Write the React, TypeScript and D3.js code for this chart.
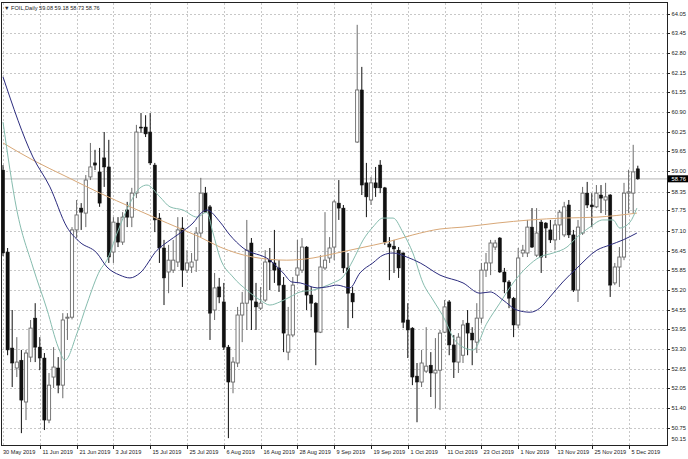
import React from "react";
import * as d3 from "d3";

const symbol = "FOIL,Daily";

const opens = [59.04,56.41,53.33,52.69,52.94,51.60,53.04,54.29,53.36,53.01,51.02,52.40,52.69,52.14,54.29,54.32,57.12,57.82,57.66,58.82,59.27,58.98,59.43,59.14,56.41,57.34,56.73,57.76,57.53,58.30,60.42,60.42,60.26,59.20,57.50,56.54,55.77,55.83,56.09,57.18,55.83,55.93,56.15,57.02,58.30,57.86,54.55,55.29,54.81,53.36,52.24,52.85,54.39,54.77,56.70,54.81,54.61,54.87,56.15,56.06,55.90,55.35,53.20,53.75,55.67,55.83,56.57,55.03,54.77,53.84,55.90,56.22,56.57,57.98,57.82,55.90,55.09,59.94,61.61,58.63,58.08,58.63,59.20,58.47,56.67,56.60,56.47,56.38,54.23,53.97,52.43,52.24,52.59,52.78,52.53,52.62,53.84,54.81,53.43,52.88,53.10,54.13,53.81,53.52,54.29,55.83,56.06,56.57,56.86,55.77,55.45,54.93,54.07,56.38,56.38,57.21,56.31,57.37,57.34,57.12,56.80,57.28,56.96,57.92,56.96,55.19,57.02,58.30,57.92,57.86,58.24,58.08,58.24,55.42,55.93,56.25,58.30,58.30,59.08];
const highs = [59.20,56.54,54.55,53.68,53.27,53.27,54.23,54.77,53.68,53.17,52.53,53.36,53.04,54.45,54.45,57.21,58.08,57.98,58.88,59.91,59.69,59.75,60.26,60.01,57.53,57.53,57.69,58.02,58.47,60.49,60.87,60.80,60.87,59.27,57.66,56.80,56.64,56.80,57.53,57.53,56.47,56.38,57.21,58.79,58.50,57.92,55.74,55.58,55.42,53.43,53.04,54.65,55.13,57.44,56.86,55.42,55.29,56.47,56.54,57.12,56.15,55.61,54.65,55.61,56.80,56.86,56.60,55.29,54.80,56.31,57.69,56.89,58.08,58.72,57.92,56.38,55.29,63.70,62.35,59.27,58.82,59.14,59.36,58.50,56.89,56.80,56.57,56.40,54.77,54.00,52.85,53.27,54.00,53.20,53.65,53.91,54.87,54.87,53.75,53.81,54.23,54.55,54.00,54.77,56.06,56.38,56.80,56.80,56.89,55.90,55.51,54.97,56.54,56.64,57.44,57.82,57.82,57.44,57.37,57.44,57.44,57.76,58.02,58.08,57.12,57.44,58.50,58.66,58.30,58.56,58.56,58.63,58.27,56.06,56.57,58.63,59.05,59.85,59.18];
const lows = [56.28,53.10,52.08,52.40,50.60,51.02,52.88,52.88,52.62,50.70,50.92,52.05,51.88,51.72,53.59,54.25,56.86,57.12,57.21,58.72,59.04,57.86,58.50,56.06,56.06,56.57,56.64,57.21,57.21,58.14,60.23,60.10,59.20,57.05,56.06,54.71,55.09,55.74,55.93,55.29,55.74,55.74,55.77,56.89,57.66,53.59,54.23,54.77,53.27,50.44,51.88,52.72,53.52,53.91,53.91,53.91,54.55,54.81,55.19,55.42,55.13,53.20,52.94,53.68,55.42,55.74,54.55,54.32,52.78,53.81,55.83,56.06,56.15,57.44,55.74,53.97,54.29,59.91,58.24,57.53,57.92,58.18,58.30,56.64,55.51,55.74,55.58,53.97,53.01,52.14,50.95,52.08,52.53,51.76,51.40,51.34,53.81,53.10,52.37,52.53,52.85,53.10,52.78,53.17,54.13,55.61,55.67,56.47,55.74,55.09,54.61,53.68,53.97,56.25,56.25,56.54,56.25,55.74,56.22,56.70,56.47,56.80,56.89,56.86,55.13,54.81,56.96,57.82,57.21,57.82,57.66,57.60,54.97,55.35,55.29,56.15,57.66,57.66,58.73];
const closes = [56.38,53.27,52.85,52.88,51.66,53.17,53.97,53.36,53.01,51.02,52.14,52.72,52.14,54.23,54.32,57.12,57.60,57.69,58.72,59.14,59.20,57.98,59.14,56.25,57.37,56.73,57.53,57.53,58.30,60.26,60.39,60.20,59.27,57.44,56.54,55.58,56.15,56.15,57.12,55.83,56.06,56.09,57.02,58.30,57.69,54.45,55.26,54.97,53.36,52.24,52.88,54.39,54.77,56.47,54.87,54.65,54.77,56.09,56.09,55.83,55.35,53.81,53.75,55.35,55.90,56.57,55.03,54.77,53.84,55.93,56.15,56.54,58.02,57.82,55.90,55.09,54.81,61.61,58.56,58.18,58.63,58.47,58.47,56.73,56.57,56.51,55.90,54.16,53.91,52.40,52.24,52.85,52.75,52.53,52.62,53.81,54.65,53.43,52.88,53.68,54.07,53.81,53.59,54.29,55.83,56.06,56.70,56.70,55.77,55.45,54.93,54.07,56.22,56.47,57.21,56.57,57.02,56.25,57.18,56.80,57.28,57.69,57.86,56.96,55.19,57.21,58.30,57.92,57.86,58.30,58.14,58.18,55.35,55.93,56.25,58.30,58.34,58.98,58.76];

// moving averages: [bar index, price]
const maFast: [number, number][] = [[0,60.58],[3,57.76],[6.5,55.93],[9.6,54.55],[12,53.36],[13.5,52.94],[16.1,53.81],[18.3,54.77],[21.1,55.83],[22.6,56.15],[24.8,57.02],[27.6,57.98],[29.8,58.47],[31.3,58.56],[34.1,58.18],[36.3,57.86],[39.1,57.76],[42.2,57.53],[44.3,57.69],[45.6,57.05],[47.2,56.22],[50,55.61],[53,55.19],[55.9,54.87],[58,54.71],[60.2,54.81],[62.4,54.97],[64.6,55.13],[67.4,55.19],[69.6,55.29],[71.7,55.42],[73.9,55.61],[76.1,56.15],[78.3,56.8],[80.4,57.21],[82.6,57.5],[84.8,57.5],[87,57.02],[89.1,56.38],[91.3,55.42],[93.5,54.87],[96.1,54.23],[97.8,53.68],[100,53.36],[102.2,53.27],[105.2,54.13],[108,54.77],[110.9,55.42],[113.9,55.93],[116.7,56.25],[119.6,56.38],[122.6,56.57],[124.8,56.89],[127.6,57.21],[130.4,57.44],[132.6,57.44],[134.1,57.18],[136.3,57.37],[137.8,57.82]];
const maMid: [number, number][] = [[0,62.03],[6.5,59.46],[10.2,58.5],[13.9,57.21],[16.7,56.73],[20.4,56.38],[22.6,55.93],[25.4,55.67],[27.6,55.58],[29.8,55.74],[33.5,56.47],[35.7,56.73],[38.5,57.02],[41.3,57.34],[43.3,57.69],[44.3,57.76],[47.2,57.37],[49.3,56.96],[52.2,56.54],[58,56.15],[60.9,55.74],[62.8,55.45],[64.6,55.42],[68.3,55.26],[70.4,55.29],[72.6,55.35],[75.4,55.26],[77.6,55.74],[80.4,56.06],[82.6,56.31],[84.8,56.38],[87.8,56.25],[90.7,56.06],[95,55.67],[100,55.42],[103.7,55.09],[105.9,55.13],[108.7,54.87],[111.7,54.55],[114.6,54.48],[116.7,54.61],[118.9,54.97],[121.7,55.45],[124.8,55.9],[129.1,56.47],[132,56.64],[134.8,56.8],[137.8,57.02]];
const maSlow: [number, number][] = [[0,59.91],[6.5,59.36],[13.9,58.82],[21.1,58.3],[28.3,57.82],[35.7,57.34],[42.8,56.89],[47.2,56.57],[54.3,56.25],[61.7,56.15],[67.4,56.22],[72.6,56.38],[77.6,56.54],[83.5,56.73],[89.1,56.96],[95,57.15],[100,57.21],[107.4,57.34],[114.6,57.44],[121.7,57.5],[129.1,57.53],[137.8,57.66]];

const priceTicks = ["64.05","63.45","62.80","62.15","61.55","60.90","60.25","59.65","59.00","58.35","57.75","57.10","56.45","55.85","55.20","54.55","53.95","53.30","52.65","52.05","51.40","50.75"];
const bottomPriceLabel = "50.15";
const dateLabels = ["30 May 2019","11 Jun 2019","21 Jun 2019","3 Jul 2019","15 Jul 2019","25 Jul 2019","6 Aug 2019","16 Aug 2019","28 Aug 2019","9 Sep 2019","19 Sep 2019","1 Oct 2019","11 Oct 2019","23 Oct 2019","1 Nov 2019","13 Nov 2019","25 Nov 2019","5 Dec 2019"];
const barsPerDateLabel = 8;

const W = 688, H = 459;
const L = 2, R = 667, T = 3, B = 445;
const FONT = "'Liberation Sans', Arial, sans-serif";

export default function App() {
  const n = closes.length;
  const x = d3.scaleLinear().domain([0, n - 1]).range([3, 3 + (n - 1) * 4.6]);
  const y = d3.scaleLinear().domain([50.22, 64.4]).range([B, T]);
  const bw = 3.2;
  const line = d3.line<[number, number]>().x(d => x(d[0])).y(d => y(d[1])).curve(d3.curveMonotoneX);
  const last = n - 1;
  const cur = closes[last];
  const title = `${symbol}  ${opens[last].toFixed(2)} ${highs[last].toFixed(2)} ${lows[last].toFixed(2)} ${closes[last].toFixed(2)}`;

  return (
    <svg width={W} height={H} style={{ position: "absolute", left: 0, top: 0, background: "#fff" }} fontFamily={FONT}>
      <defs>
        <clipPath id="plot"><rect x={L} y={T} width={R - L} height={B - T} /></clipPath>
      </defs>
      <rect x={0} y={0} width={W} height={H} fill="#fff" />
      <g clipPath="url(#plot)">
        {priceTicks.map(t => (
          <line key={t} x1={L} x2={R} y1={Math.round(y(+t)) + 0.5} y2={Math.round(y(+t)) + 0.5} stroke="#c8c8c8" strokeDasharray="2,2" />
        ))}
        {dateLabels.map((d, k) => (
          <line key={d} x1={Math.round(x(k * barsPerDateLabel)) + 0.5} x2={Math.round(x(k * barsPerDateLabel)) + 0.5} y1={T} y2={B} stroke="#c8c8c8" strokeDasharray="2,2" />
        ))}
        <line x1={L} x2={R} y1={y(cur)} y2={y(cur)} stroke="#c4c4c4" strokeWidth={1.2} />
        {closes.map((c, i) => {
          const o = opens[i];
          const bull = c >= o;
          const cx = x(i);
          const top = y(Math.max(o, c));
          const bot = y(Math.min(o, c));
          const col = bull ? "#6a6a6a" : "#111";
          return (
            <g key={i}>
              <line x1={cx} x2={cx} y1={y(highs[i])} y2={y(lows[i])} stroke={col} strokeWidth={1} />
              <rect x={cx - bw / 2} y={top} width={bw} height={Math.max(bot - top, 1)} fill={bull ? "#fff" : "#111"} stroke={col} strokeWidth={bull ? 0.9 : 0.5} />
            </g>
          );
        })}
        <path d={line(maSlow) || ""} fill="none" stroke="#d8a878" strokeWidth={1} />
        <path d={line(maFast) || ""} fill="none" stroke="#86bcae" strokeWidth={1} />
        <path d={line(maMid) || ""} fill="none" stroke="#2c2c7e" strokeWidth={1} />
      </g>
      {/* frame */}
      <rect x={L - 0.5} y={T - 0.5} width={R - L + 1} height={B - T + 1} fill="none" stroke="#222" strokeWidth={1} />
      {/* title */}
      <text x={4} y={10} fontSize={5.6} fill="#222">▼ {title}</text>
      {/* right price axis */}
      {priceTicks.map(t => (
        <g key={t}>
          <line x1={R} x2={R + 3} y1={Math.round(y(+t)) + 0.5} y2={Math.round(y(+t)) + 0.5} stroke="#222" />
          <text x={R + 4.5} y={y(+t) + 2} fontSize={5.8} fill="#222">{t}</text>
        </g>
      ))}
      <text x={R + 4.5} y={B - 4} fontSize={5.8} fill="#222">{bottomPriceLabel}</text>
      <rect x={R + 1} y={y(cur) - 3.5} width={W - R - 1} height={7} fill="#000" />
      <text x={R + 4.5} y={y(cur) + 2} fontSize={5.8} fill="#fff">{cur.toFixed(2)}</text>
      {/* bottom time axis */}
      {dateLabels.map((d, k) => {
        const px = Math.round(x(k * barsPerDateLabel)) + 0.5;
        return (
          <g key={d}>
            {k > 0 && <line x1={px} x2={px} y1={B} y2={B + 4} stroke="#222" />}
            <text x={k === 0 ? 3 : px + 2} y={B + 8.5} fontSize={5.6} fill="#222">{d}</text>
          </g>
        );
      })}
    </svg>
  );
}
